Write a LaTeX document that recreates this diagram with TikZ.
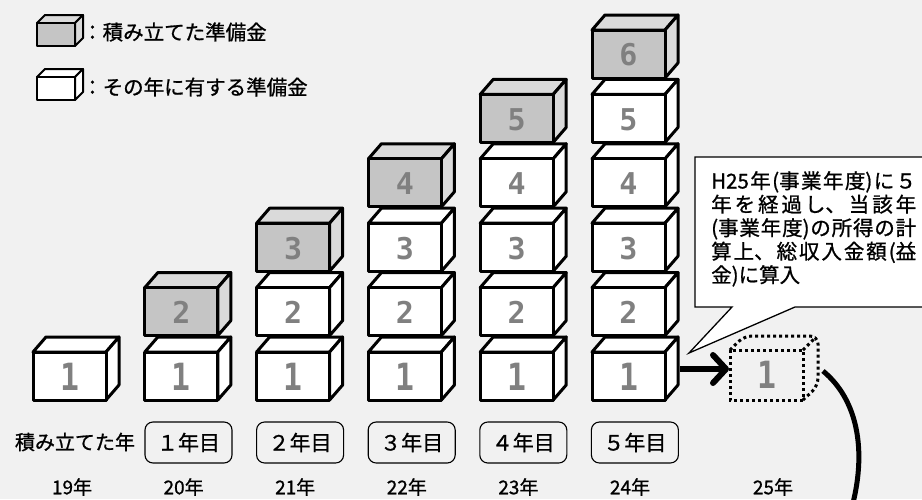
\documentclass[tikz,border=0pt]{standalone}
\usepackage{fontspec}
\usepackage{graphicx}
\newfontfamily\jp{Noto Sans CJK JP}[FakeBold=0.9]
\newfontfamily\numf{DejaVu Sans Mono}
\usetikzlibrary{arrows.meta}
\definecolor{bg}{RGB}{241,241,241}
\definecolor{cubegray}{RGB}{197,197,197}
\definecolor{cubegrayside}{RGB}{218,218,218}
\definecolor{numgray}{RGB}{128,128,128}
\newcommand\jaspread{\XeTeXlinebreaklocale "ja"\XeTeXlinebreakskip=0pt plus 6pt\relax}
\newcommand\tallone{\scalebox{1.05}[1.25]{1}}
\tikzset{
  cubeline/.style={line width=3pt, line join=round, draw=black},
  numlbl/.style={font=\numf\bfseries\fontsize{30}{30}\selectfont, text=numgray, inner sep=0pt},
  lgtext/.style={font=\jp\fontsize{20.5}{24}\selectfont, inner sep=0pt, anchor=west},
  yearbox/.style={draw, line width=1.1pt, rounded corners=8pt, minimum width=87pt, minimum height=41pt,
     inner sep=0pt, font=\jp\fontsize{21}{24}\selectfont},
  yearlbl/.style={font=\jp\fontsize{19}{20}\selectfont, inner sep=0pt},
  calltext/.style={font=\jp\fontsize{20.5}{23.5}\selectfont\jaspread, text width=205pt, align=justify, inner sep=0pt},
  bigarrow/.style={line width=6pt, -{Straight Barb[length=13pt,width=28pt,round]}},
  dotline/.style={line width=3pt, dash pattern=on 3pt off 3pt},
}
\newcommand\drawcube[5]{%
  \filldraw[cubeline, fill=#4] (#1,#2) -- (#1+13,#2-15) -- (#1+86,#2-15) -- (#1+73,#2) -- cycle;
  \filldraw[cubeline, fill=#4] (#1+73,#2) -- (#1+86,#2-15) -- (#1+86,#2+33) -- (#1+73,#2+48) -- cycle;
  \filldraw[cubeline, fill=#3] (#1,#2) rectangle (#1+73,#2+48);
  \node[numlbl] at (#1+36.5,#2+25) {#5};
}
\begin{document}
\begin{tikzpicture}[x=1pt,y=-1pt]
\fill[bg] (0,0) rectangle (922,499);
\useasboundingbox (0,0) rectangle (922,499);

% legend
\filldraw[line width=2pt, line join=round, fill=cubegrayside] (37,23) -- (45,15) -- (83,15) -- (75,23) -- cycle;
\filldraw[line width=2pt, line join=round, fill=cubegrayside] (75,23) -- (83,15) -- (83,38) -- (75,46) -- cycle;
\filldraw[line width=2pt, line join=round, fill=cubegray] (37,23) rectangle (75,46);
\node[lgtext] (lg1) at (82,32) {：積み立てた準備金};
\filldraw[line width=2pt, line join=round, fill=white] (37,77) -- (45,69) -- (83,69) -- (75,77) -- cycle;
\filldraw[line width=2pt, line join=round, fill=white] (75,77) -- (83,69) -- (83,92) -- (75,100) -- cycle;
\filldraw[line width=2pt, line join=round, fill=white] (37,77) rectangle (75,100);
\node[lgtext] (lg2) at (82,87) {：その年に有する準備金};

% stacks of cubes
\foreach \k in {0,...,5} {
  \foreach \r in {0,...,\k} {
    \pgfmathsetmacro\cx{33+111.8*\k}
    \pgfmathsetmacro\cy{352-64.4*\r}
    \pgfmathtruncatemacro\n{\r+1}
    \pgfmathtruncatemacro\isg{(\r==\k)&&(\k>0)}
    \ifnum\isg=1 \def\ffront{cubegray}\def\fside{cubegrayside}\else\def\ffront{white}\def\fside{white}\fi
    \ifnum\n=1 \def\lbl{\tallone}\else\let\lbl\n\fi
    \drawcube{\cx}{\cy}{\ffront}{\fside}{\lbl}
  }
}

% callout
\filldraw[fill=white, line width=1.3pt, line join=miter]
  (695,157) -- (923,157) -- (923,307) -- (795,307) -- (689,353) -- (732,307) -- (695,307) -- cycle;
\node[calltext, anchor=north west] (ctext) at (711,171)
  {H25年(事業年度)に５\linebreak 年を経過し、当該年\linebreak (事業年度)の所得の計\linebreak 算上、総収入金額(益\linebreak 金)に算入};

% dotted cube
\draw[dotline, rounded corners=8pt] (730,350) -- (744,336) -- (818,336) -- (818,386) -- (803,400);
\draw[dotline] (730,350) rectangle (803,400);
\draw[dotline] (803,350) -- (816,337);
\node[numlbl] (ghost) at (766.5,375) {\tallone};
\coordinate (src) at (680,369);
\coordinate (dst) at (729,369);
\draw[bigarrow] (src) -- (dst);
\coordinate (cs) at (823,371);
\coordinate (ce) at (853,503);
\draw[line width=5pt] (cs) .. controls (858,400) and (866,450) .. (ce);

% bottom labels
\node[font=\jp\fontsize{20}{24}\selectfont, inner sep=0pt] (tlabel) at (75,442) {積み立てた年};
\foreach \i/\t in {1/１年目,2/２年目,3/３年目,4/４年目,5/５年目} {
  \node[yearbox] (yb\i) at (188.5+111.6*\i-111.6,442.5) {\t};
}
\foreach \i/\t in {0/19年,1/20年,2/21年,3/22年,4/23年,5/24年} {
  \node[yearlbl] (yl\i) at (72+111.6*\i,487) {\t};
}
\node[yearlbl] (yl6) at (773,487) {25年};
\end{tikzpicture}
\end{document}
